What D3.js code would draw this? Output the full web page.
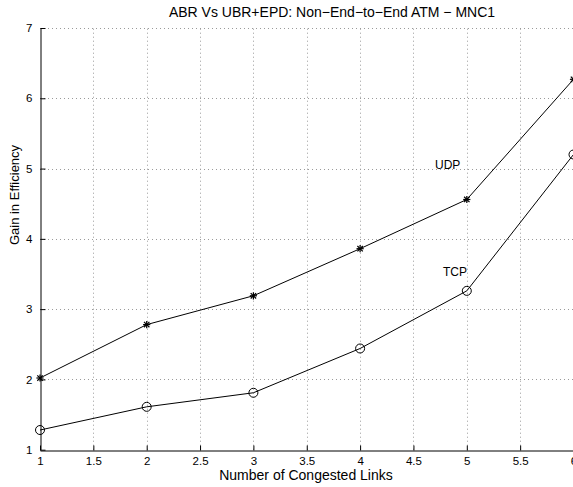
<!DOCTYPE html>
<html>
<head>
<meta charset="utf-8">
<script src="https://cdn.jsdelivr.net/npm/d3@7"></script>
<style>
  html, body { margin: 0; padding: 0; background: #fff; }
  svg { display: block; font-family: "Liberation Sans", Arial, Helvetica, sans-serif; }
</style>
</head>
<body>
<svg id="chart" width="573" height="487"></svg>
<script>
// Congested links on the x axis, efficiency gain per traffic type
const links = [1, 2, 3, 4, 5, 6];
const udpGain = [2.02, 2.78, 3.19, 3.86, 4.56, 6.27];
const tcpGain = [1.28, 1.61, 1.81, 2.44, 3.26, 5.20];
const xTicks = [1, 1.5, 2, 2.5, 3, 3.5, 4, 4.5, 5, 5.5, 6];
const yTicks = [1, 2, 3, 4, 5, 6, 7];

const svg = d3.select("#chart");
const plot = { left: 40, right: 573.5, top: 28, bottom: 449.7 };

const x = d3.scaleLinear().domain([1, 6]).range([plot.left, plot.right]);
const y = d3.scaleLinear().domain([1, 7]).range([plot.bottom, plot.top]);

// dotted grid
const grid = svg.append("g").attr("stroke", "#9a9a9a").attr("stroke-width", 1)
  .attr("stroke-dasharray", "1,3");
grid.selectAll("line.gx").data(xTicks.slice(1)).join("line").attr("class", "gx")
  .attr("x1", d => Math.round(x(d)) + 0.5).attr("x2", d => Math.round(x(d)) + 0.5)
  .attr("y1", plot.bottom).attr("y2", plot.top);
grid.selectAll("line.gy").data(yTicks.slice(1)).join("line").attr("class", "gy")
  .attr("y1", d => Math.round(y(d)) + 0.5).attr("y2", d => Math.round(y(d)) + 0.5)
  .attr("x1", plot.left).attr("x2", plot.right);

// axes
const xAxis = d3.axisBottom(x).tickValues(xTicks).tickSizeInner(-5).tickSizeOuter(0)
  .tickPadding(6).tickFormat(d3.format("~g"));
const gx = svg.append("g").attr("transform", `translate(0,${Math.round(plot.bottom) + 0.5})`).call(xAxis);
gx.select(".domain").attr("stroke", "#000");
gx.selectAll(".tick line").attr("stroke", "#000");
gx.selectAll(".tick text").attr("font-size", 11.5).attr("fill", "#000")
  .attr("font-family", "Liberation Sans, Arial, sans-serif");

const yAxis = d3.axisLeft(y).tickValues(yTicks).tickSizeInner(-5).tickSizeOuter(0)
  .tickPadding(8).tickFormat(d3.format("d"));
const gy = svg.append("g").attr("transform", `translate(${Math.round(plot.left) + 0.5},0)`).call(yAxis);
gy.select(".domain").attr("stroke", "#000");
gy.selectAll(".tick line").attr("stroke", "#000");
gy.selectAll(".tick text").attr("font-size", 11.5).attr("fill", "#000")
  .attr("font-family", "Liberation Sans, Arial, sans-serif");

// series lines
const line = d3.line().x((d, i) => x(links[i])).y(d => y(d));
[udpGain, tcpGain].forEach(vals => {
  svg.append("path").datum(vals).attr("d", line)
    .attr("fill", "none").attr("stroke", "#000").attr("stroke-width", 1);
});

// star markers for UDP
const star = svg.append("g").attr("stroke", "#000").attr("stroke-width", 1.2);
udpGain.forEach((v, i) => {
  const cx = x(links[i]), cy = y(v), r = 3.6;
  star.append("line").attr("x1", cx - r).attr("x2", cx + r).attr("y1", cy).attr("y2", cy);
  star.append("line").attr("x1", cx).attr("x2", cx).attr("y1", cy - r).attr("y2", cy + r);
  star.append("line").attr("x1", cx - r * 0.75).attr("x2", cx + r * 0.75).attr("y1", cy - r * 0.75).attr("y2", cy + r * 0.75);
  star.append("line").attr("x1", cx - r * 0.75).attr("x2", cx + r * 0.75).attr("y1", cy + r * 0.75).attr("y2", cy - r * 0.75);
});

// circle markers for TCP
svg.append("g").selectAll("circle").data(tcpGain).join("circle")
  .attr("cx", (d, i) => x(links[i])).attr("cy", d => y(d)).attr("r", 4.5)
  .attr("fill", "none").attr("stroke", "#000").attr("stroke-width", 1);

// series labels
svg.append("text").attr("x", 435).attr("y", 169).attr("font-size", 12).text("UDP");
svg.append("text").attr("x", 443).attr("y", 276).attr("font-size", 12).text("TCP");

// titles
svg.append("text").attr("x", 332).attr("y", 17).attr("text-anchor", "middle")
  .attr("font-size", 14).text("ABR Vs UBR+EPD: Non\u2212End\u2212to\u2212End ATM \u2212 MNC1");
svg.append("text").attr("x", 306).attr("y", 480).attr("text-anchor", "middle")
  .attr("font-size", 14).text("Number of Congested Links");
svg.append("text").attr("transform", "translate(19,195) rotate(-90)").attr("text-anchor", "middle")
  .attr("font-size", 13).text("Gain in Efficiency");
</script>
</body>
</html>
